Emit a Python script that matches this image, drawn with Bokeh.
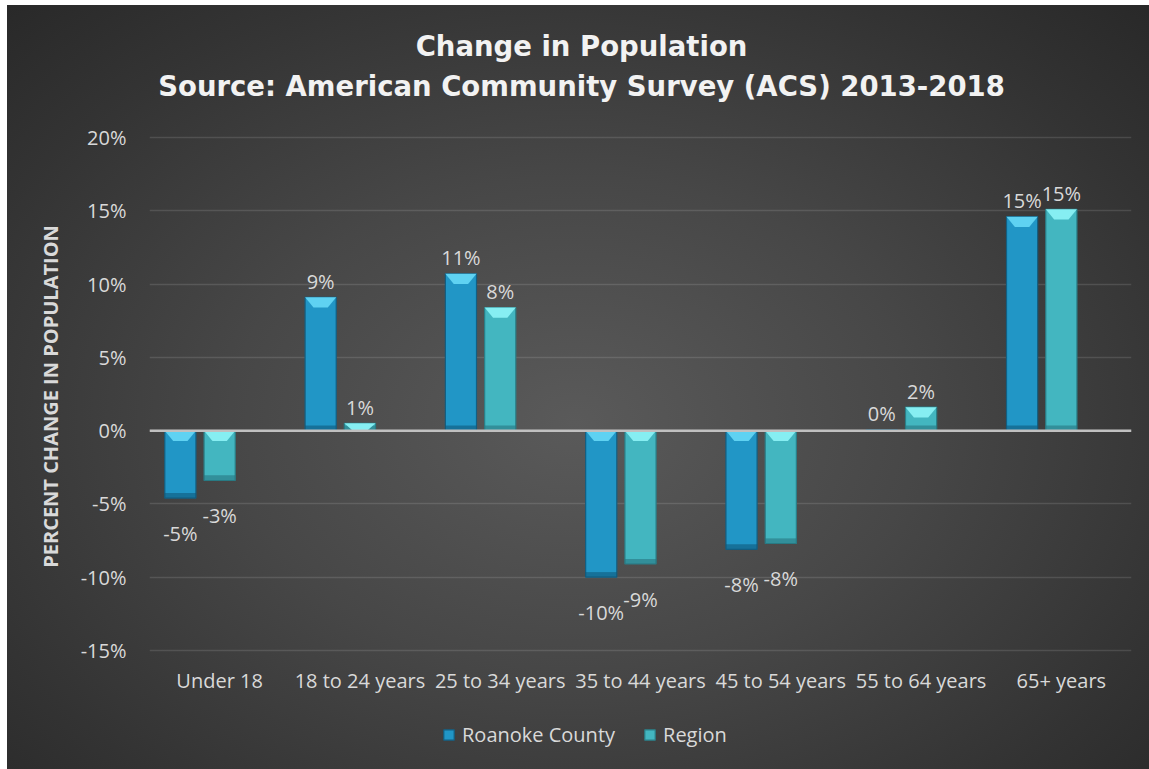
from bokeh.plotting import figure
from bokeh.models import (Range1d, FixedTicker, PrintfTickFormatter, Span, Legend,
                          LegendItem, Label, ColumnDataSource)
from bokeh.embed import file_html
from bokeh.resources import INLINE
from bokeh.core.properties import value

# ---------------- data ----------------
categories = ["Under 18", "18 to 24 years", "25 to 34 years", "35 to 44 years",
              "45 to 54 years", "55 to 64 years", "65+ years"]
roanoke = [-4.6, 9.1, 10.7, -10.0, -8.1, 0.05, 14.6]
region = [-3.4, 0.5, 8.4, -9.1, -7.7, 1.6, 15.1]
series_names = ["Roanoke County", "Region"]
y_ticks = [-15, -10, -5, 0, 5, 10, 15, 20]
title_line1 = "Change in Population"
title_line2 = "Source: American Community Survey (ACS) 2013-2018"
y_axis_title = "PERCENT CHANGE IN POPULATION"

# ---------------- style / layout ----------------
FONT = "Open Sans"
TITLE_FONT = "DejaVu Sans"
LABEL_COLOR = "#d9d9d9"
BAR_W = 0.222
OFFSETS = [-0.28, 0.0]
MAIN = ["#2196c6", "#43b6c0"]
EDGE = ["#135f82", "#2a7f88"]
LIGHT = ["#5fd2f2", "#86eef2"]
DARK = ["#0f5475", "#24707a"]
BEVEL_H = 0.7
BEVEL_INSET = 0.06
W, H = 1149, 769
LEFT, RIGHT = 149, 18
FRAME_TOP = 23                 # frame also hosts the title block
PLOT_TOP, PLOT_BOTTOM = 137, 650   # pixel rows of the highest / lowest tick
TITLE_X = 432                  # title centre, px from frame left
TITLE_BASE = [45, 85]          # title baselines, px from page top

span = y_ticks[-1] - y_ticks[0]
ppu = (PLOT_BOTTOM - PLOT_TOP) / span
y_hi = y_ticks[-1] + (PLOT_TOP - FRAME_TOP) / ppu
y_lo = y_ticks[0] - (H - PLOT_BOTTOM) / ppu


def pct_label(v):
    r = int(abs(v) + 0.5)
    sign = "-" if (v < 0 and r != 0) else ""
    return f"{sign}{r}%"


p = figure(width=W, height=H, x_range=Range1d(0, len(categories)),
           y_range=Range1d(y_lo, y_hi), output_backend="svg",
           toolbar_location=None, min_border_left=LEFT, min_border_right=RIGHT,
           min_border_top=FRAME_TOP, min_border_bottom=0)
p.background_fill_alpha = 0
p.border_fill_alpha = 0
p.outline_line_alpha = 0
p.styles = {"background": (
    "linear-gradient(to right, #ffffff 7px, rgba(255,255,255,0) 7px), "
    "linear-gradient(to bottom, #ffffff 5px, rgba(255,255,255,0) 5px), "
    "radial-gradient(ellipse 75% 80% at 50% 55%, #5a5a5a 0%, #474747 40%, #333333 75%, #262626 100%)")}

# title block
for txt, base in zip([title_line1, title_line2], TITLE_BASE):
    p.add_layout(Label(x=TITLE_X, y=H - base, x_units="screen", y_units="screen", text=txt,
                       text_align="center", text_baseline="alphabetic", text_font=TITLE_FONT,
                       text_font_size="27.5px", text_font_style="bold", text_color="#f2f2f2"))

# grid / axes
p.xgrid.visible = False
p.ygrid.ticker = FixedTicker(ticks=y_ticks)
p.ygrid.grid_line_color = "#ffffff"
p.ygrid.grid_line_alpha = 0.12
p.ygrid.grid_line_width = 1.3

p.yaxis.ticker = FixedTicker(ticks=y_ticks)
p.yaxis.formatter = PrintfTickFormatter(format="%d%%")
p.yaxis.axis_line_color = None
p.yaxis.major_tick_line_color = None
p.yaxis.minor_tick_line_color = None
p.yaxis.major_label_text_font = FONT
p.yaxis.major_label_text_font_size = "20px"
p.yaxis.major_label_text_color = LABEL_COLOR
p.yaxis.major_label_standoff = 17
p.yaxis.axis_label = y_axis_title
p.yaxis.axis_label_text_font = FONT
p.yaxis.axis_label_text_font_style = "bold"
p.yaxis.axis_label_text_font_size = "20px"
p.yaxis.axis_label_text_color = LABEL_COLOR
p.yaxis.axis_label_standoff = 14

centers = [i + 0.5 for i in range(len(categories))]
p.xaxis.fixed_location = y_ticks[0]
p.xaxis.ticker = FixedTicker(ticks=centers)
p.xaxis.major_label_overrides = {c: lab for c, lab in zip(centers, categories)}
p.xaxis.axis_line_color = None
p.xaxis.major_tick_line_color = None
p.xaxis.minor_tick_line_color = None
p.xaxis.major_label_text_font = FONT
p.xaxis.major_label_text_font_size = "20px"
p.xaxis.major_label_text_color = LABEL_COLOR
p.xaxis.major_label_standoff = 10

p.add_layout(Span(location=0, dimension="width", line_color="#c0c0c0", line_width=2.5))

renderers = []
for k, vals in enumerate([roanoke, region]):
    xs = [c + OFFSETS[k] for c in centers]
    tops = [max(v, 0) for v in vals]
    bots = [min(v, 0) for v in vals]
    r = p.vbar(x=xs, width=BAR_W, top=tops, bottom=bots, fill_color=MAIN[k],
               line_color=EDGE[k], line_width=1.2)
    renderers.append(r)
    # darker lower end
    hd = [min(0.35, abs(v)) for v in vals]
    p.vbar(x=xs, width=BAR_W, top=[b + h for b, h in zip(bots, hd)], bottom=bots,
           fill_color=DARK[k], fill_alpha=0.55, line_color=None)
    # bevel highlight on upper end
    hb = [min(BEVEL_H, abs(v)) for v in vals]
    pxs = [[x - BAR_W / 2, x + BAR_W / 2, x + BAR_W / 2 - BEVEL_INSET, x - BAR_W / 2 + BEVEL_INSET]
           for x in xs]
    pys = [[t, t, t - h, t - h] for t, h in zip(tops, hb)]
    p.patches(xs=pxs, ys=pys, fill_color=LIGHT[k], line_color=None)
    # data labels
    src = ColumnDataSource(dict(x=xs, y=vals, text=[pct_label(v) for v in vals],
                                yo=[-16 if v >= 0 else 35 for v in vals]))
    p.text(x="x", y="y", text="text", y_offset="yo", source=src, text_align="center",
           text_baseline="alphabetic", text_font=value(FONT), text_font_size="20px",
           text_color=LABEL_COLOR)

legend = Legend(items=[LegendItem(label=n, renderers=[r]) for n, r in zip(series_names, renderers)],
                orientation="horizontal", location=(288, 16), glyph_width=13, glyph_height=13,
                label_standoff=7, spacing=28, padding=5, margin=0,
                background_fill_alpha=0, border_line_alpha=0,
                label_text_font=FONT, label_text_font_size="20px", label_text_color=LABEL_COLOR)
p.add_layout(legend, "center")

open("out.html", "w").write(file_html(p, INLINE))
